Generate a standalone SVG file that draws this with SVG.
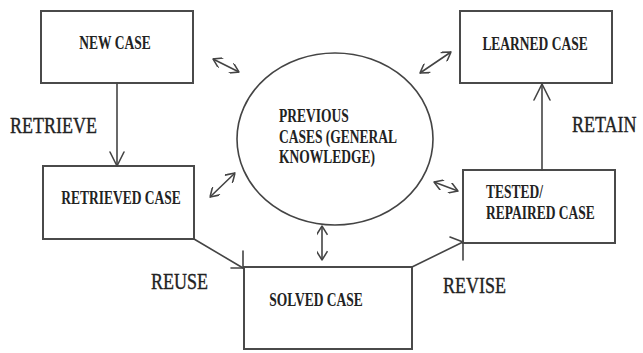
<svg xmlns="http://www.w3.org/2000/svg" width="643" height="353" viewBox="0 0 643 353">
  <style>
    .box { fill: #fff; stroke: #4a4a4a; stroke-width: 2; }
    .link { fill: none; stroke: #444; stroke-width: 1.6; stroke-linecap: round; stroke-linejoin: round; }
    .lbl { font-family: "Liberation Serif", "Times New Roman", serif; font-weight: bold; font-size: 13.5px; fill: #222; }
    .step { font-family: "Liberation Serif", "Times New Roman", serif; font-size: 18px; fill: #222; stroke: #222; stroke-width: 0.3; }
  </style>
  <defs>
    <marker id="head" viewBox="0 0 10 10" refX="10" refY="5" markerWidth="11" markerHeight="11" markerUnits="userSpaceOnUse" orient="auto-start-reverse">
      <path d="M2,0 L10,5 L2,10" fill="none" stroke="#444" stroke-width="1.4"/>
    </marker>
  </defs>
  <rect width="643" height="353" fill="#fff"/>

  <!-- knowledge base -->
  <g id="previous-cases">
    <ellipse cx="335" cy="139" rx="98" ry="86" fill="#fff" stroke="#444" stroke-width="1.6"/>
    <text class="lbl" transform="translate(279,122) scale(1,1.35)">PREVIOUS</text>
    <text class="lbl" transform="translate(279,143) scale(1,1.35)">CASES (GENERAL</text>
    <text class="lbl" transform="translate(279,163) scale(1,1.35)">KNOWLEDGE)</text>
  </g>

  <g id="new-case">
    <rect class="box" x="41" y="11" width="152" height="72"/>
    <text class="lbl" text-anchor="middle" transform="translate(115,49) scale(1,1.35)">NEW CASE</text>
  </g>

  <g id="retrieved-case">
    <rect class="box" x="43" y="166" width="151" height="73"/>
    <text class="lbl" text-anchor="middle" transform="translate(121,204) scale(1,1.35)">RETRIEVED CASE</text>
  </g>

  <g id="solved-case">
    <rect class="box" x="244" y="267" width="168" height="82"/>
    <text class="lbl" text-anchor="middle" transform="translate(316,306) scale(1,1.35)">SOLVED CASE</text>
  </g>

  <g id="tested-case">
    <rect class="box" x="463" y="170" width="152" height="73"/>
    <text class="lbl" transform="translate(486,198) scale(1,1.35)">TESTED/</text>
    <text class="lbl" transform="translate(486,219) scale(1,1.35)">REPAIRED CASE</text>
  </g>

  <g id="learned-case">
    <rect class="box" x="460" y="11" width="152" height="72"/>
    <text class="lbl" text-anchor="middle" transform="translate(535,50) scale(1,1.35)">LEARNED CASE</text>
  </g>

  <!-- cycle steps and knowledge exchanges -->
  <g id="connectors">
    <!-- retrieve -->
    <path class="link" d="M117,83 L117,166"/>
    <path class="link" d="M110,152 L117,166 L124,152"/>
    <!-- reuse -->
    <path class="link" d="M194,239 L243,268"/>
    <path class="link" d="M243,251 L243,268 L231,268"/>
    <!-- revise -->
    <path class="link" d="M412,267 L463,242"/>
    <path class="link" d="M450,237 L463,242 L463,260"/>
    <!-- retain -->
    <path class="link" d="M542,170 L542,84"/>
    <path class="link" d="M534,100 L542,84 L550,100"/>

    <!-- exchanges with the case base -->
    <line class="link" x1="213" y1="59" x2="239" y2="72" marker-start="url(#head)" marker-end="url(#head)"/>
    <line class="link" x1="420" y1="73" x2="451" y2="52" marker-start="url(#head)" marker-end="url(#head)"/>
    <line class="link" x1="210" y1="197" x2="235" y2="173" marker-start="url(#head)" marker-end="url(#head)"/>
    <line class="link" x1="434" y1="182" x2="458" y2="191" marker-start="url(#head)" marker-end="url(#head)"/>
    <line class="link" x1="322" y1="226" x2="322" y2="260" marker-start="url(#head)" marker-end="url(#head)"/>
  </g>

  <!-- step labels -->
  <g id="step-labels">
    <text class="step" transform="translate(10,133) scale(1,1.26)">RETRIEVE</text>
    <text class="step" transform="translate(572,132) scale(1,1.26)">RETAIN</text>
    <text class="step" transform="translate(151,289) scale(1,1.26)">REUSE</text>
    <text class="step" transform="translate(443,293) scale(1,1.26)">REVISE</text>
  </g>
</svg>
